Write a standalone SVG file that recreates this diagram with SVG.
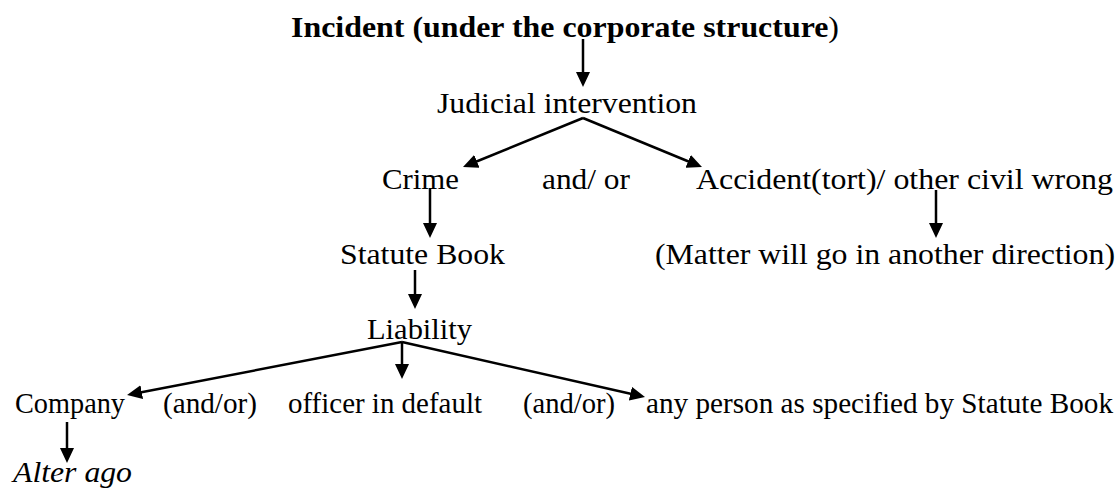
<svg xmlns="http://www.w3.org/2000/svg" width="1117" height="488" viewBox="0 0 1117 488">
  <style>
    text { font-family: "Liberation Serif", "Times New Roman", serif; font-size: 29px; fill: #000; }
    .b { font-weight: bold; }
    .i { font-style: italic; }
    .c { stroke: #000; stroke-width: 2.5; fill: none; marker-end: url(#ah); }
  </style>
  <defs>
    <marker id="ah" markerUnits="userSpaceOnUse" markerWidth="15" markerHeight="14" refX="7" refY="7" orient="auto">
      <path d="M0,0 L15,7 L0,14 z" fill="#000"/>
    </marker>
  </defs>
  <rect width="1117" height="488" fill="#fff"/>

  <g id="connectors">
    <line class="c" x1="583" y1="39" x2="583" y2="79"/>
    <line class="c" x1="583" y1="118" x2="470.4" y2="164"/>
    <line class="c" x1="583" y1="118" x2="694.6" y2="164"/>
    <line class="c" x1="430" y1="188" x2="430" y2="230"/>
    <line class="c" x1="936" y1="190" x2="936" y2="230"/>
    <line class="c" x1="415" y1="270" x2="415" y2="301"/>
    <line class="c" x1="402" y1="342" x2="134.9" y2="393.5"/>
    <line class="c" x1="402" y1="342" x2="402" y2="371"/>
    <line class="c" x1="402" y1="342" x2="637.2" y2="395.2"/>
    <line class="c" x1="67" y1="422" x2="67" y2="455"/>
  </g>

  <g id="incident"><text class="b" x="291" y="37" textLength="548" lengthAdjust="spacingAndGlyphs">Incident (under the corporate structure<tspan font-weight="normal">)</tspan></text></g>
  <g id="judicial"><text x="437" y="113" textLength="260" lengthAdjust="spacingAndGlyphs">Judicial intervention</text></g>
  <g id="crime"><text x="382" y="189" textLength="77" lengthAdjust="spacingAndGlyphs">Crime</text></g>
  <g id="andor1"><text x="542" y="189" textLength="88" lengthAdjust="spacingAndGlyphs">and/ or</text></g>
  <g id="accident"><text x="696" y="189" textLength="417" lengthAdjust="spacingAndGlyphs">Accident(tort)/ other civil wrong</text></g>
  <g id="statute"><text x="340" y="264" textLength="165" lengthAdjust="spacingAndGlyphs">Statute Book</text></g>
  <g id="matter"><text x="655" y="264" textLength="460" lengthAdjust="spacingAndGlyphs">(Matter will go in another direction)</text></g>
  <g id="liability"><text x="367" y="339" textLength="105" lengthAdjust="spacingAndGlyphs">Liability</text></g>
  <g id="company"><text x="15" y="413" textLength="110" lengthAdjust="spacingAndGlyphs">Company</text></g>
  <g id="andor2"><text x="163" y="413" textLength="94" lengthAdjust="spacingAndGlyphs">(and/or)</text></g>
  <g id="officer"><text x="288" y="413" textLength="194" lengthAdjust="spacingAndGlyphs">officer in default</text></g>
  <g id="andor3"><text x="523" y="413" textLength="92" lengthAdjust="spacingAndGlyphs">(and/or)</text></g>
  <g id="anyperson"><text x="646" y="413" textLength="467" lengthAdjust="spacingAndGlyphs">any person as specified by Statute Book</text></g>
  <g id="alterago"><text class="i" x="13" y="482" textLength="119" lengthAdjust="spacingAndGlyphs">Alter ago</text></g>
</svg>
